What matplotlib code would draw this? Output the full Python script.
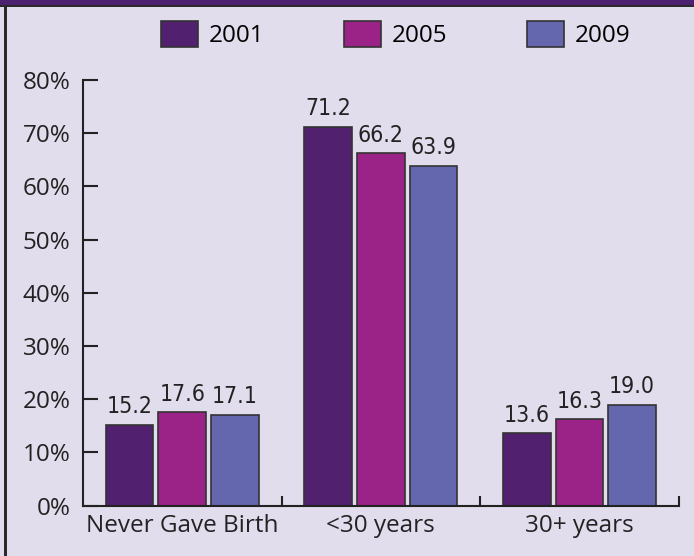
import matplotlib.pyplot as plt
import numpy as np
from matplotlib.patches import Rectangle

categories = ['Never Gave Birth', '<30 years', '30+ years']
years = ['2001', '2005', '2009']
v2001 = [15.2, 71.2, 13.6]
v2005 = [17.6, 66.2, 16.3]
v2009 = [17.1, 63.9, 19.0]
yticks = [0, 10, 20, 30, 40, 50, 60, 70, 80]

colors = ['#51206f', '#9b2387', '#6466ae']
bg = '#e1ddec'

fig = plt.figure(figsize=(6.94, 5.56), dpi=100)
fig.patch.set_facecolor(bg)
# dark frame: band on top, line on the left
fig.patches.append(Rectangle((0, 0.9905), 1, 0.0095, transform=fig.transFigure,
                             facecolor='#4b2170', edgecolor='none'))
fig.patches.append(Rectangle((0, 0.988), 1, 0.003, transform=fig.transFigure,
                             facecolor='#2a2a2a', edgecolor='none'))
fig.patches.append(Rectangle((0.006, 0), 0.0035, 0.99, transform=fig.transFigure,
                             facecolor='#2a2a2a', edgecolor='none'))

ax = fig.add_axes([0.1196, 0.0905, 0.8584, 0.7655])
ax.set_facecolor(bg)

x = np.arange(len(categories))
w = 0.24
off = 0.265
for i, (vals, c) in enumerate(zip([v2001, v2005, v2009], colors)):
    xs = x + (i - 1) * off
    ax.bar(xs, vals, w, color=c, edgecolor='#333333', linewidth=1.2, label=years[i], zorder=2)
    for xi, v in zip(xs, vals):
        ax.text(xi, v + 1.2, f'{v:.1f}', ha='center', va='bottom', fontsize=16.5,
                family='DejaVu Sans', fontstretch='condensed', color='#222222')

ax.set_xlim(-0.5, 2.5)
ax.set_ylim(0, 80)
ax.set_yticks(yticks)
ax.set_yticklabels([f'{t}%' for t in yticks], fontsize=17.5, family='Open Sans', color='#222222')
ax.tick_params(axis='y', direction='in', length=10.5, width=1.5, pad=9, colors='#222222')
ax.set_xticks([0.5, 1.5, 2.5], minor=True)
ax.set_xticks(x)
ax.set_xticklabels(categories, fontsize=17.5, family='Open Sans', color='#222222')
ax.tick_params(axis='x', which='major', length=0, pad=6)
ax.tick_params(axis='x', which='minor', direction='in', length=7, width=1.5, colors='#222222')
for s in ['top', 'right']:
    ax.spines[s].set_visible(False)
for s in ['left', 'bottom']:
    ax.spines[s].set_linewidth(1.5)
    ax.spines[s].set_color('#222222')

leg = ax.legend(loc='upper center', bbox_to_anchor=(0.525, 1.19), ncol=3, frameon=False,
                prop={'family': 'Open Sans', 'size': 17.5}, handlelength=1.5, handleheight=1.25,
                columnspacing=3.3, handletextpad=0.45)

plt.savefig('out.png', dpi=100, facecolor=bg)
